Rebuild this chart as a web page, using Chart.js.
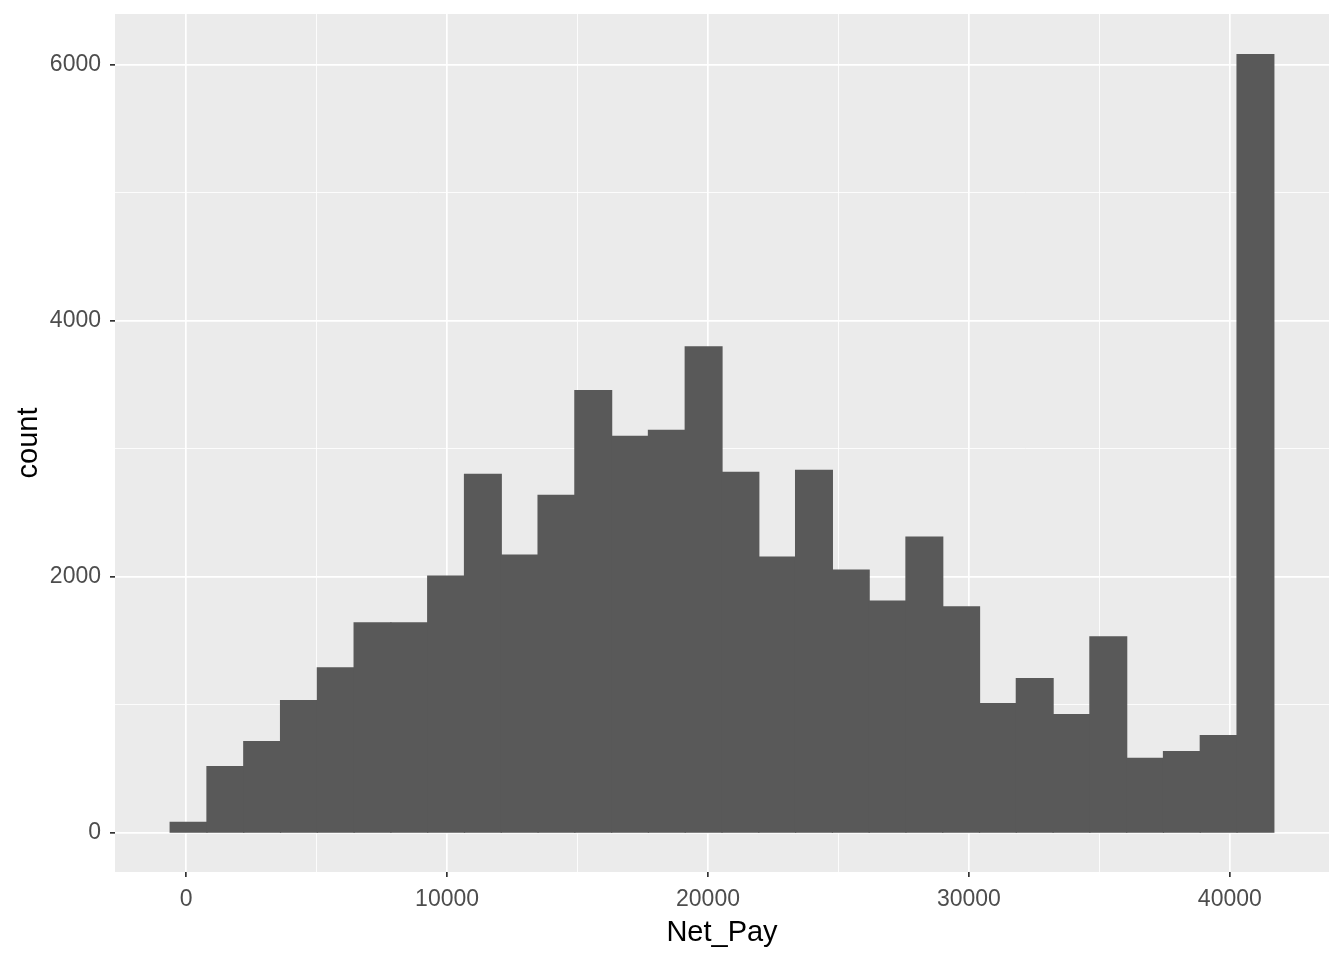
<!DOCTYPE html>
<html>
<head>
<meta charset="utf-8">
<script src="https://cdn.jsdelivr.net/npm/chart.js@4"></script>
<style>
  html, body { margin: 0; padding: 0; background: #ffffff; }
  canvas { display: block; }
</style>
</head>
<body>
<canvas id="hist" width="1344" height="960"></canvas>
<script>
// histogram of Net_Pay, 30 bins, bin width ~1410
const binCenters = [92, 1502, 2912, 4322, 5732, 7142, 8552, 9962, 11372, 12782,
  14192, 15602, 17012, 18422, 19832, 21242, 22652, 24062, 25472, 26882,
  28292, 29702, 31112, 32522, 33932, 35342, 36752, 38162, 39572, 40982];
const counts = [83, 519, 714, 1033, 1290, 1641, 1641, 2007, 2801, 2170,
  2638, 3456, 3097, 3144, 3798, 2817, 2155, 2833, 2054, 1812,
  2311, 1766, 1010, 1205, 924, 1532, 582, 636, 761, 6080];
const xTicks = [0, 5000, 10000, 15000, 20000, 25000, 30000, 35000, 40000];
const yTicks = [0, 1000, 2000, 3000, 4000, 5000, 6000];

const FONT = "'Liberation Sans', Arial, sans-serif";

const panelBg = {
  id: 'panelBg',
  beforeDraw(chart) {
    const { ctx, chartArea: a } = chart;
    ctx.save();
    ctx.fillStyle = '#EBEBEB';
    ctx.fillRect(a.left, a.top, a.right - a.left, a.bottom - a.top);
    ctx.restore();
  }
};

// major gridline? (minor ones get thinner lines and no tick mark)
const isMajor = (c, step) => !!c.tick && c.tick.value % step === 0;

new Chart(document.getElementById('hist'), {
  type: 'bar',
  data: {
    datasets: [{
      data: binCenters.map((x, i) => ({ x, y: counts[i] })),
      backgroundColor: '#595959',
      borderWidth: 0,
      inflateAmount: 0.6,
      barPercentage: 1,
      categoryPercentage: 1,
    }],
  },
  options: {
    responsive: false,
    animation: false,
    layout: { padding: { top: 14, right: 15, left: 0, bottom: 0 } },
    plugins: { legend: { display: false }, tooltip: { enabled: false } },
    scales: {
      x: {
        type: 'linear',
        min: -2728,
        max: 43801,
        offset: false,
        afterBuildTicks: (s) => { s.ticks = xTicks.map(v => ({ value: v })); },
        afterFit: (s) => { s.height = 88; s.paddingLeft = 0; s.paddingRight = 0; },
        border: { display: false },
        grid: {
          offset: false,
          color: '#FFFFFF',
          lineWidth: (c) => isMajor(c, 10000) ? 1.7 : 0.85,
          tickColor: (c) => isMajor(c, 10000) ? '#333333' : 'rgba(0,0,0,0)',
          tickWidth: 1.7,
          tickLength: 5,
        },
        ticks: {
          autoSkip: false,
          maxRotation: 0,
          padding: 9,
          color: '#4D4D4D',
          font: { family: FONT, size: 23 },
          callback: (v) => v % 10000 === 0 ? String(v) : '',
        },
        title: {
          display: true,
          text: 'Net_Pay',
          color: '#000000',
          font: { family: FONT, size: 29 },
          padding: { top: 0, bottom: 10 },
        },
      },
      y: {
        min: -305,
        max: 6397,
        afterBuildTicks: (s) => { s.ticks = yTicks.map(v => ({ value: v })); },
        afterFit: (s) => { s.width = 115; s.paddingTop = 0; s.paddingBottom = 0; },
        border: { display: false },
        grid: {
          color: '#FFFFFF',
          lineWidth: (c) => isMajor(c, 2000) ? 1.7 : 0.85,
          tickColor: (c) => isMajor(c, 2000) ? '#333333' : 'rgba(0,0,0,0)',
          tickWidth: 1.7,
          tickLength: 5,
        },
        ticks: {
          autoSkip: false,
          padding: 9,
          color: '#4D4D4D',
          font: { family: FONT, size: 23 },
          callback: (v) => v % 2000 === 0 ? String(v) : '',
        },
        title: {
          display: true,
          text: 'count',
          color: '#000000',
          font: { family: FONT, size: 29 },
          padding: { top: 12, bottom: 0 },
        },
      },
    },
  },
  plugins: [panelBg],
});
</script>
</body>
</html>
